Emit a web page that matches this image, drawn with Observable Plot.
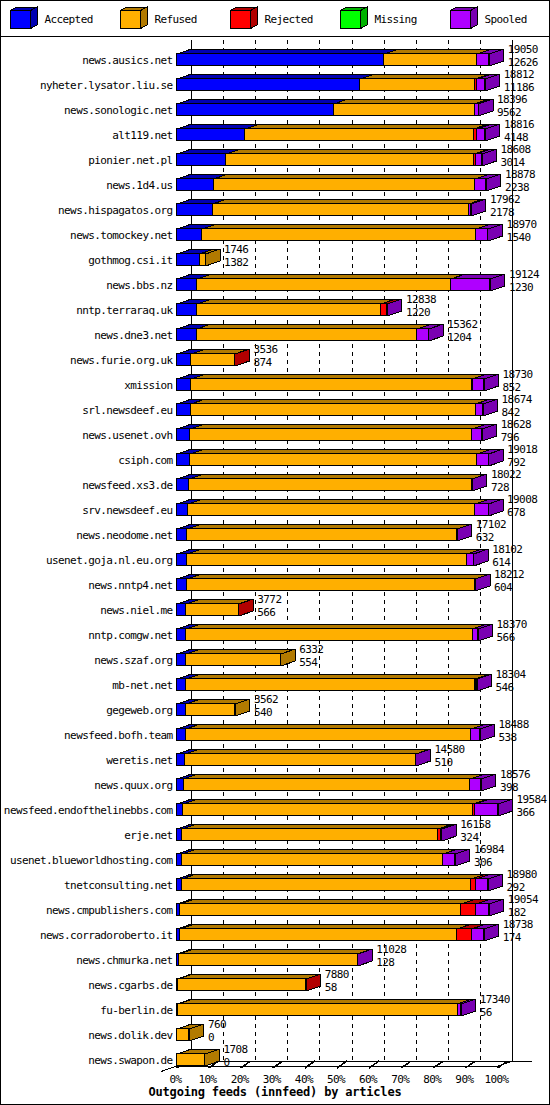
<!DOCTYPE html>
<html>
<head>
<meta charset="utf-8">
<script src="https://cdn.jsdelivr.net/npm/d3@7"></script>
<script src="https://cdn.jsdelivr.net/npm/@observablehq/plot@0.6"></script>
<style>
  html, body { margin: 0; padding: 0; background: #fff; }
  #page { position: relative; width: 550px; height: 1105px; background: #fff; overflow: hidden; }
  #border { position: absolute; left: 0; top: 0; width: 550px; height: 1105px; box-sizing: border-box; border: 1px solid #000; pointer-events: none; z-index: 10; }
  #legend { position: absolute; left: 0; top: 0; width: 550px; height: 37px; }
  #chart { position: absolute; left: 0; top: 37px; width: 550px; }
  #title { position: absolute; left: 0; top: 1084px; width: 550px; text-align: center; font: bold 12px "DejaVu Sans Mono", monospace; letter-spacing: -0.2px; line-height: 16px; color: #000; }
  svg text { letter-spacing: -0.6px; }
</style>
</head>
<body>
<div id="page">
  <div id="legend"></div>
  <div id="chart"></div>
  <div id="title">Outgoing feeds (innfeed) by articles</div>
  <div id="border"></div>
</div>
<script>
// ---------------- data ----------------
const hosts = [
  "news.ausics.net","nyheter.lysator.liu.se","news.sonologic.net","alt119.net","pionier.net.pl",
  "news.1d4.us","news.hispagatos.org","news.tomockey.net","gothmog.csi.it","news.bbs.nz",
  "nntp.terraraq.uk","news.dne3.net","news.furie.org.uk","xmission","srl.newsdeef.eu",
  "news.usenet.ovh","csiph.com","newsfeed.xs3.de","srv.newsdeef.eu","news.neodome.net",
  "usenet.goja.nl.eu.org","news.nntp4.net","news.niel.me","nntp.comgw.net","news.szaf.org",
  "mb-net.net","gegeweb.org","newsfeed.bofh.team","weretis.net","news.quux.org",
  "newsfeed.endofthelinebbs.com","erje.net","usenet.blueworldhosting.com","tnetconsulting.net","news.cmpublishers.com",
  "news.corradoroberto.it","news.chmurka.net","news.cgarbs.de","fu-berlin.de","news.dolik.dev",
  "news.swapon.de"
];
const totals = [
  19050,18812,18396,18816,18608,18878,17962,18970,1746,19124,
  12838,15362,3536,18730,18674,18628,19018,18022,19008,17102,
  18102,18212,3772,18370,6332,18304,3562,18488,14580,18576,
  19584,16158,16984,18980,19054,18738,11028,7880,17340,760,
  1708
];
const accepted = [
  12626,11186,9562,4148,3014,2238,2178,1540,1382,1230,
  1220,1204,874,852,842,796,792,728,678,632,
  614,604,566,566,554,546,540,538,510,398,
  366,324,306,292,182,174,128,58,56,0,
  0
];
const refused = [
  5700,7016,8594,13958,15104,15940,15624,16730,364,15474,
  11218,13438,2652,17148,17382,17212,17526,17264,17530,16460,
  17088,17598,3196,17464,5778,17658,3022,17410,14060,17478,
  17718,15594,15918,17658,17172,16904,10890,7812,17064,760,
  1708
];
const rejected = [
  0,110,40,190,120,0,0,0,0,0,
  380,0,10,30,0,0,0,0,0,0,
  0,0,10,0,0,20,0,0,0,0,
  100,180,0,290,900,900,0,10,0,0,
  0
];
const missing = [
  0,0,0,0,0,0,0,0,0,0,
  0,0,0,0,0,0,0,0,0,0,
  0,0,0,0,0,0,0,0,0,0,
  0,0,0,0,0,0,0,0,0,0,
  0
];
const spooled = [
  724,500,200,520,370,700,160,700,0,2420,
  20,720,0,700,450,620,700,30,800,10,
  400,10,0,340,0,80,0,540,10,700,
  1400,60,760,740,800,760,10,0,220,0,
  0
];
const seriesNames = ["Accepted","Refused","Rejected","Missing","Spooled"];
const seriesColors = ["#0000FF","#FFAF00","#FF0000","#00FF00","#AF00FF"];
const seriesDark   = ["#0000B2","#B27A00","#B20000","#00B200","#7A00B2"];
const pctTicks = [0,10,20,30,40,50,60,70,80,90,100];
const pctLabels = ["0%","10%","20%","30%","40%","50%","60%","70%","80%","90%","100%"];
const seriesValues = [accepted, refused, rejected, missing, spooled];

// ---------------- geometry (pixel styling) ----------------
const MAX = d3.max(totals);
const X_RANGE = [176.5, 497.5];
const ROW_PX = 25;
const Y_RANGE = [16.5, 16.5 + ROW_PX * hosts.length];
const kx = (X_RANGE[1] - X_RANGE[0]) / MAX;      // px per article
const DX = 14.5 / kx;                              // depth in x units
const DY = 5 / ROW_PX;                             // depth in y units
const BH = 12 / ROW_PX;                            // bar front height
const n = hosts.length;
const floorFront = (n - 1) + BH;
const floorBack = floorFront - DY;
const gridTop = -13.5 / ROW_PX;

// build faces
const fronts = [], polys = [];
hosts.forEach((h, i) => {
  let x0 = 0, last = null;
  seriesValues.forEach((vals, j) => {
    const v = vals[i];
    if (!(v > 0)) return;
    const x1 = x0 + v;
    fronts.push({x1: x0, x2: x1, y1: i, y2: i + BH, fill: seriesColors[j]});
    const id = "top-" + i + "-" + j, f = seriesDark[j];
    polys.push({id, x: x0, y: i, fill: f}, {id, x: x1, y: i, fill: f},
               {id, x: x1 + DX, y: i - DY, fill: f}, {id, x: x0 + DX, y: i - DY, fill: f});
    last = {j, x1};
    x0 = x1;
  });
  if (last) {
    const id = "side-" + i, f = seriesDark[last.j], t = last.x1;
    polys.push({id, x: t, y: i, fill: f}, {id, x: t, y: i + BH, fill: f},
               {id, x: t + DX, y: i + BH - DY, fill: f}, {id, x: t + DX, y: i - DY, fill: f});
  }
});

const tickVals = pctTicks.map(p => p * MAX / 100);
const inner = tickVals.slice(1, -1);
const ends = [tickVals[0], tickVals[tickVals.length - 1]];
const floorLines = [
  {x1: 0, y1: floorFront, x2: MAX, y2: floorFront},
  {x1: DX, y1: floorBack, x2: MAX + DX + 19 / kx, y2: floorBack},
  {x1: DX, y1: floorBack, x2: -16 / kx, y2: floorFront + 5.5 / ROW_PX},
  {x1: MAX, y1: floorFront, x2: MAX + DX, y2: floorBack}
];
const rows = hosts.map((h, i) => i);
const font = {fontFamily: "DejaVu Sans Mono", fontSize: 11, fill: "black"};

const chart = Plot.plot({
  width: 550,
  height: 1048,
  marginTop: 0, marginBottom: 0, marginLeft: 0, marginRight: 0,
  x: {domain: [0, MAX], range: X_RANGE, axis: null},
  y: {domain: [0, n], range: Y_RANGE, axis: null},
  style: {background: "white", color: "black", fontFamily: "DejaVu Sans Mono", fontSize: "11px", overflow: "visible"},
  marks: [
    Plot.ruleX(inner, {x: d => d + DX, y1: gridTop, y2: floorBack, stroke: "black", strokeWidth: 1, strokeDasharray: "4,4", shapeRendering: "crispEdges"}),
    Plot.ruleX(ends, {x: d => d + DX, y1: gridTop, y2: floorBack, stroke: "black", strokeWidth: 1, shapeRendering: "crispEdges"}),
    Plot.link(floorLines, {x1: "x1", y1: "y1", x2: "x2", y2: "y2", stroke: "black", strokeWidth: 1, shapeRendering: "crispEdges"}),
    Plot.link(tickVals, {x1: d => d, y1: floorFront + 2 / ROW_PX, x2: d => d + 10 / kx, y2: floorBack, dx: -0.5, stroke: "black", strokeWidth: 1.6, shapeRendering: "crispEdges"}),
    Plot.line(polys, {x: "x", y: "y", z: "id", fill: "fill", stroke: "black", strokeWidth: 1, curve: "linear-closed", strokeLinejoin: "miter", shapeRendering: "crispEdges"}),
    Plot.rect(fronts, {x1: "x1", x2: "x2", y1: "y1", y2: "y2", fill: "fill", stroke: "black", strokeWidth: 1, shapeRendering: "crispEdges"}),
    Plot.text(rows, {x: 0, y: i => i + BH / 2, text: i => hosts[i], textAnchor: "end", dx: -4.5, ...font}),
    Plot.text(rows, {x: i => totals[i], y: i => i, text: i => String(totals[i]), textAnchor: "start", dx: 18.5, dy: -4.5, ...font}),
    Plot.text(rows, {x: i => totals[i], y: i => i, text: i => String(accepted[i]), textAnchor: "start", dx: 18.5, dy: 8.5, ...font}),
    Plot.text(tickVals, {x: d => d, y: floorFront, text: (d, i) => pctLabels[i], textAnchor: "middle", dx: -1.5, dy: 13, ...font})
  ]
});
document.getElementById("chart").appendChild(chart);

// ---------------- legend ----------------
const lg = d3.select("#legend").append("svg").attr("width", 550).attr("height", 37)
  .style("display", "block").attr("shape-rendering", "crispEdges");
seriesNames.forEach((name, j) => {
  const gx = 10.5 + 110 * j, gy = 10.5, w = 20, h = 18, ddx = 6.5, ddy = 3.5;
  const g = lg.append("g").attr("stroke", "black").attr("stroke-width", 1);
  g.append("polygon").attr("points", [[gx, gy], [gx + w, gy], [gx + w + ddx, gy - ddy], [gx + ddx, gy - ddy]].join(" ")).attr("fill", seriesDark[j]);
  g.append("polygon").attr("points", [[gx + w, gy], [gx + w, gy + h], [gx + w + ddx, gy + h - ddy], [gx + w + ddx, gy - ddy]].join(" ")).attr("fill", seriesDark[j]);
  g.append("rect").attr("x", gx).attr("y", gy).attr("width", w).attr("height", h).attr("fill", seriesColors[j]);
  lg.append("text").attr("x", gx + 34).attr("y", 20).attr("dominant-baseline", "middle")
    .attr("font-family", "DejaVu Sans Mono").attr("font-size", 11).attr("fill", "black").text(name);
});
lg.append("line").attr("x1", 0).attr("x2", 550).attr("y1", 36.5).attr("y2", 36.5).attr("stroke", "black");
</script>
</body>
</html>
